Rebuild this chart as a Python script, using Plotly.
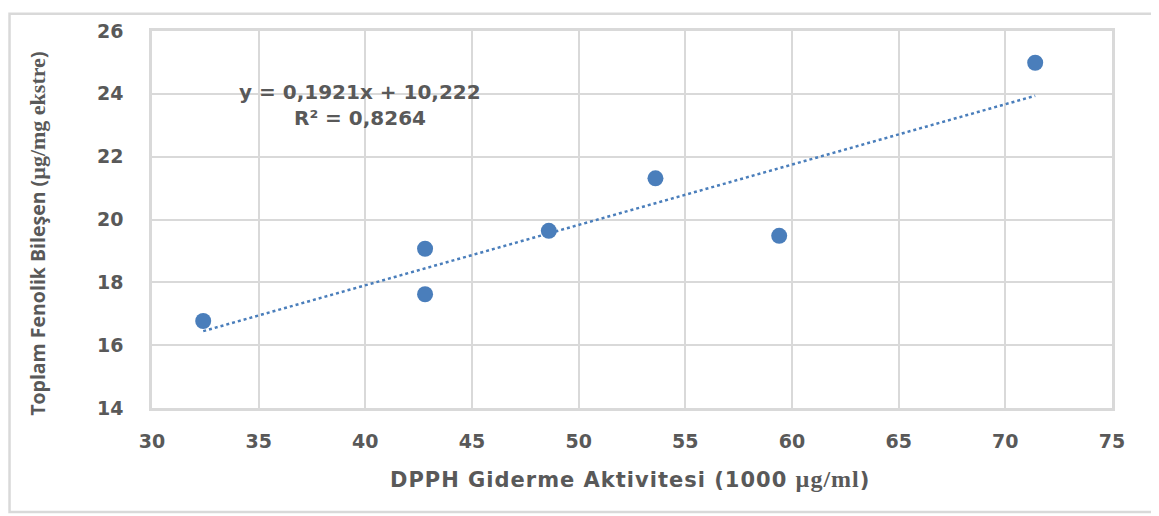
import plotly.graph_objects as go

# Data
dpph = [32.4, 42.8, 42.8, 48.6, 53.6, 59.4, 71.4]
fenolik = [16.77, 19.07, 17.62, 19.64, 21.31, 19.48, 24.99]
slope = 0.1921
intercept = 10.222
r2 = 0.8264
x_ticks = [30, 35, 40, 45, 50, 55, 60, 65, 70, 75]
y_ticks = [14, 16, 18, 20, 22, 24, 26]
x_title = "DPPH Giderme Aktivitesi (1000 <span style='font-family:Liberation Serif;font-size:24px'>µg/ml</span>)"
y_title = "Toplam Fenolik Bileşen (<span style='font-family:Liberation Serif;font-size:22px'>µg/mg ekstre</span>)"

grey = "#595959"
blue = "#4A7EBB"
grid = "#D9D9D9"
wide = "DejaVu Sans"
sans = "Open Sans"

x_line = [min(dpph), max(dpph)]
y_line = [slope * v + intercept for v in x_line]

fig = go.Figure()
fig.add_trace(go.Scatter(
    x=x_line, y=y_line, mode="lines",
    line=dict(color=blue, width=2.5, dash="dot"),
    hoverinfo="skip", showlegend=False))
fig.add_trace(go.Scatter(
    x=dpph, y=fenolik, mode="markers",
    marker=dict(color=blue, size=16, line=dict(width=0)),
    showlegend=False))

eq = "y = " + f"{slope}".replace(".", ",") + "x + " + f"{intercept}".replace(".", ",")
r2txt = "R² = " + f"{r2}".replace(".", ",")
fig.add_annotation(x=39.75, y=24.05, xref="x", yref="y", text="<b>" + eq + "</b>",
                   showarrow=False, font=dict(family=wide, size=20, color=grey))
fig.add_annotation(x=39.75, y=23.24, xref="x", yref="y", text="<b>" + r2txt + "</b>",
                   showarrow=False, font=dict(family=wide, size=20, color=grey))

# axis titles
fig.add_annotation(x=0.498, y=-0.189, xref="paper", yref="paper",
                   xanchor="center", yanchor="middle",
                   text="<b><span style='letter-spacing:1px'>" + x_title + "</span></b>",
                   showarrow=False, font=dict(family=wide, size=21, color=grey))
fig.add_annotation(x=-0.11875, y=0.462, xref="paper", yref="paper", textangle=-90,
                   xanchor="center", yanchor="middle",
                   text="<b>" + y_title + "</b>",
                   showarrow=False, font=dict(family=sans, size=19.5, color=grey))

# outer frame
fig.add_shape(type="rect", xref="paper", yref="paper",
              x0=-0.1484, x1=1.07, y0=-0.2756, y1=1.046,
              line=dict(color=grid, width=2.5), layer="below")

fig.update_layout(
    width=1151, height=508,
    margin=dict(l=144, r=47, t=19, b=108),
    paper_bgcolor="white", plot_bgcolor="white",
    font=dict(family=wide, color=grey),
    xaxis=dict(
        range=[30, 75], tickvals=x_ticks, ticktext=[f"<b>{v}</b>" for v in x_ticks],
        showgrid=True, gridcolor=grid, gridwidth=2,
        showline=True, linecolor=grid, linewidth=2.5, mirror=True,
        zeroline=False, ticks="", ticklabelstandoff=14,
        tickfont=dict(family=wide, size=19, color=grey),
    ),
    yaxis=dict(
        range=[14, 26], tickvals=y_ticks, ticktext=[f"<b>{v}</b>" for v in y_ticks],
        showgrid=True, gridcolor=grid, gridwidth=2,
        showline=True, linecolor=grid, linewidth=2.5, mirror=True,
        zeroline=False, ticks="", ticklabelstandoff=22,
        tickfont=dict(family=wide, size=19, color=grey),
    ),
)

fig.write_html("out.html")
